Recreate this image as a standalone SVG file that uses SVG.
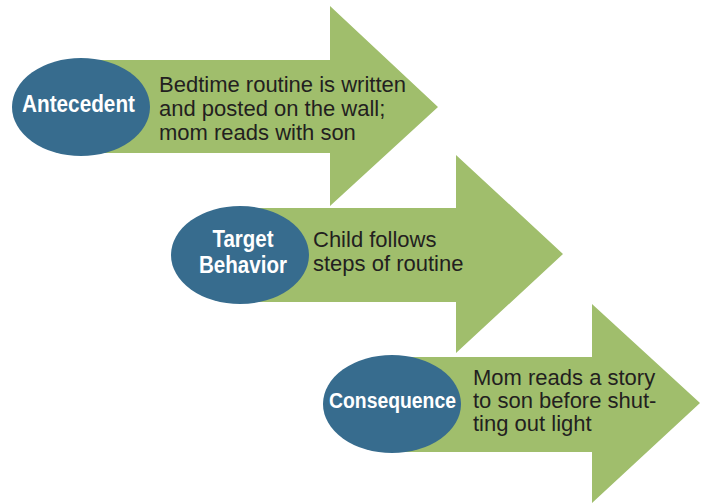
<svg xmlns="http://www.w3.org/2000/svg" width="704" height="504" viewBox="0 0 704 504">
<style>
.arrow{fill:#a0be6c}
.oval{fill:#376c8e}
.lbl{font-family:"Liberation Sans",Arial,sans-serif;font-weight:bold;fill:#ffffff;text-anchor:middle}
.txt{font-family:"Liberation Sans",Arial,sans-serif;font-size:22px;fill:#231f20}
</style>
<rect width="704" height="504" fill="#ffffff"/>
<g id="connectors"></g>
<g id="antecedent">
<polygon class="arrow" points="81,60 330,60 330,6 438,107 330,206 330,153 81,153"/>
<ellipse class="oval" cx="81" cy="107" rx="69" ry="49"/>
<text class="lbl" x="78.5" y="112" font-size="24" textLength="113" lengthAdjust="spacingAndGlyphs">Antecedent</text>
<text class="txt" x="159" y="92">Bedtime routine is written</text>
<text class="txt" x="159" y="116">and posted on the wall;</text>
<text class="txt" x="159" y="140">mom reads with son</text>
</g>
<g id="target-behavior">
<polygon class="arrow" points="240,208 456,208 456,155 563,254 456,353 456,302 240,302"/>
<ellipse class="oval" cx="240" cy="255" rx="69" ry="49"/>
<text class="lbl" x="243" y="247" font-size="24" textLength="61" lengthAdjust="spacingAndGlyphs">Target</text>
<text class="lbl" x="243" y="273" font-size="24" textLength="88" lengthAdjust="spacingAndGlyphs">Behavior</text>
<text class="txt" x="313" y="247">Child follows</text>
<text class="txt" x="313" y="271">steps of routine</text>
</g>
<g id="consequence">
<polygon class="arrow" points="392,357 592,357 592,304 700,403 592,503 592,452 392,452"/>
<ellipse class="oval" cx="392" cy="404" rx="69" ry="49"/>
<text class="lbl" x="392.5" y="408" font-size="22" textLength="127" lengthAdjust="spacingAndGlyphs">Consequence</text>
<text class="txt" x="473" y="385">Mom reads a story</text>
<text class="txt" x="473" y="408">to son before shut-</text>
<text class="txt" x="473" y="431">ting out light</text>
</g>
</svg>
